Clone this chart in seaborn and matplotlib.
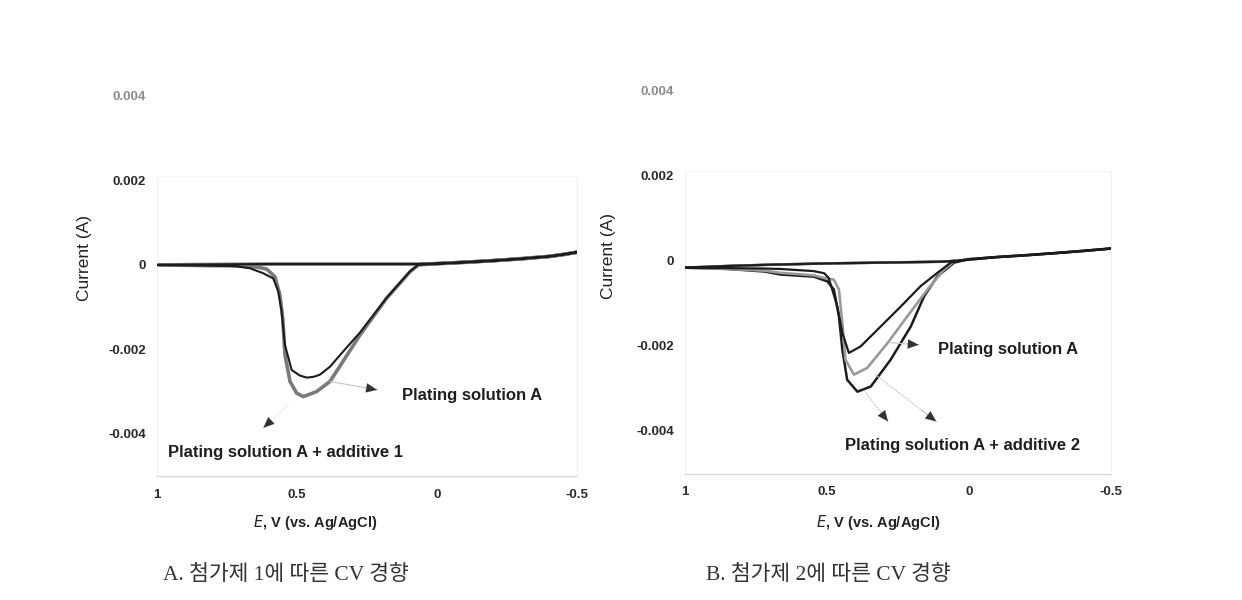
import matplotlib
matplotlib.use("Agg")
import matplotlib.pyplot as plt
import seaborn as sns
import pandas as pd

# ---------------- data ----------------
# Panel A : additive 1
a_plain_E = [1.0, 0.9, 0.8, 0.72, 0.668, 0.62, 0.585, 0.567, 0.555, 0.543, 0.519, 0.49, 0.465,
             0.44, 0.418, 0.382, 0.335, 0.275, 0.18, 0.096, 0.067, 0.0, -0.1, -0.2, -0.3, -0.4,
             -0.45, -0.5, -0.4, -0.2, 0.0, 0.067, 0.2, 0.4, 0.6, 0.8, 1.0]
a_plain_I = [0.0, -0.00001, -0.00002, -0.00003, -0.00008, -0.0002, -0.00032, -0.00063, -0.0011,
             -0.0019, -0.00249, -0.00262, -0.00267, -0.00265, -0.0026, -0.00241, -0.00205,
             -0.0016, -0.00078, -0.00015, 0.0, 0.00003, 0.00006, 0.0001, 0.00014, 0.0002,
             0.00024, 0.0003, 0.0002, 0.0001, 0.00003, 0.00002, 0.00002, 0.00002, 0.00002,
             0.00001, 0.0]
a_add1_E = [1.0, 0.9, 0.8, 0.739, 0.644, 0.608, 0.579, 0.561, 0.551, 0.543, 0.525, 0.501, 0.477,
            0.43, 0.382, 0.275, 0.18, 0.096, 0.067, 0.0, -0.1, -0.2, -0.3, -0.4, -0.45, -0.5,
            -0.4, -0.2, 0.0, 0.067, 0.2, 0.4, 0.6, 0.8, 1.0]
a_add1_I = [0.0, -0.00001, -0.00002, -0.00002, -0.00005, -0.0001, -0.00028, -0.00071, -0.00126,
            -0.00213, -0.00276, -0.00304, -0.00312, -0.003, -0.00276, -0.00166, -0.00079,
            -0.00016, 0.0, 0.00003, 0.00006, 0.0001, 0.00014, 0.0002, 0.00024, 0.0003,
            0.0002, 0.0001, 0.00003, 0.00002, 0.00002, 0.00002, 0.00002, 0.00001, 0.0]

# Panel B : additive 2
b_return_E = [-0.5, -0.3, -0.1, 0.0, 0.05, 0.1, 0.3, 0.5, 0.7, 0.85, 1.0]
b_return_I = [0.00028, 0.00017, 0.00008, 0.00002, -0.00001, -0.00003, -0.00005, -0.00007,
              -0.0001, -0.00013, -0.00017]
b_pos_E = [0.0, -0.1, -0.2, -0.3, -0.4, -0.5]
b_pos_I = [0.00003, 0.00008, 0.00012, 0.00017, 0.00022, 0.00028]

b_plain_E = [1.0, 0.85, 0.72, 0.664, 0.547, 0.51, 0.494, 0.464, 0.446, 0.423, 0.382, 0.311,
             0.24, 0.17, 0.111, 0.064]
b_plain_I = [-0.00017, -0.00018, -0.00019, -0.0002, -0.00025, -0.0003, -0.00041, -0.00107,
             -0.0017, -0.00217, -0.00202, -0.00155, -0.00108, -0.0006, -0.00029, -0.00005]
b_add2a_E = [1.0, 0.85, 0.72, 0.664, 0.547, 0.511, 0.476, 0.458, 0.446, 0.435, 0.405, 0.358,
             0.287, 0.217, 0.146, 0.087, 0.052]
b_add2a_I = [-0.00017, -0.0002, -0.00024, -0.00029, -0.00035, -0.00041, -0.00045, -0.00068,
             -0.00147, -0.00233, -0.00268, -0.00252, -0.00194, -0.00131, -0.00068, -0.00021,
             -0.00002]
b_add2b_E = [1.0, 0.85, 0.72, 0.664, 0.547, 0.499, 0.476, 0.458, 0.446, 0.429, 0.393, 0.346,
             0.276, 0.205, 0.158, 0.111, 0.052]
b_add2b_I = [-0.00017, -0.0002, -0.00026, -0.00033, -0.00038, -0.00049, -0.00068, -0.00131,
             -0.00209, -0.0028, -0.00308, -0.00296, -0.00233, -0.00155, -0.00084, -0.00037,
             -0.00005]

y_ticks = [0.004, 0.002, 0, -0.002, -0.004]
y_tick_labels = ["0.004", "0.002", "0", "-0.002", "-0.004"]
x_ticks = [1, 0.5, 0, -0.5]
x_tick_labels = ["1", "0.5", "0", "-0.5"]
caption_a = "A. 첨가제 1에 따른 CV 경향"
caption_b = "B. 첨가제 2에 따른 CV 경향"
label_plain = "Plating solution A"
label_add1 = "Plating solution A + additive 1"
label_add2 = "Plating solution A + additive 2"


def frame(E, I, name):
    return pd.DataFrame({"E": E, "I": I, "series": name, "step": range(len(E))})


df_a_plain = frame(a_plain_E, a_plain_I, "plain")
df_a_add1 = frame(a_add1_E, a_add1_I, "add1")
df_b_plain = frame(b_plain_E + b_pos_E + b_return_E, b_plain_I + b_pos_I + b_return_I, "plain")
df_b_add2a = frame(b_add2a_E + b_pos_E + b_return_E, b_add2a_I + b_pos_I + b_return_I, "add2a")
df_b_add2b = frame(b_add2b_E + b_pos_E + b_return_E, b_add2b_I + b_pos_I + b_return_I, "add2b")

# ---------------- figure ----------------
sns.set_theme(style="white")
plt.rcParams["font.family"] = ["Liberation Sans", "DejaVu Sans"]

fig = plt.figure(figsize=(12.42, 6.0), dpi=100)
axA = fig.add_axes([157 / 1242, 1 - 476 / 600, 420 / 1242, 380 / 600])
axB = fig.add_axes([685 / 1242, 1 - 473.5 / 600, 426 / 1242, 383.5 / 600])

BLACK = "#1c1c1c"


def draw(ax, df, color, lw, z):
    sns.lineplot(data=df, x="E", y="I", sort=False, estimator=None, color=color,
                 linewidth=lw, ax=ax, zorder=z, legend=False)


draw(axA, df_a_add1, "#7a7a7a", 2.6, 2)
draw(axA, df_a_plain, BLACK, 1.5, 3)

draw(axB, df_b_add2b, BLACK, 1.8, 2)
draw(axB, df_b_add2a, "#9a9a9a", 1.9, 3)
draw(axB, df_b_plain, BLACK, 1.6, 4)

for ax in (axA, axB):
    ax.set_xlim(1, -0.5)
    ax.set_ylim(-0.005, 0.004)
    ax.set_yticks(y_ticks)
    ax.set_yticklabels(y_tick_labels)
    ax.set_xticks(x_ticks)
    ax.set_xticklabels(x_tick_labels)
    ax.tick_params(axis="both", length=0, labelsize=9.5, colors="#2a2a2a")
    ax.tick_params(axis="y", pad=8)
    ax.tick_params(axis="x", pad=9)
    for lab in ax.get_xticklabels() + ax.get_yticklabels():
        lab.set_fontweight("bold")
    ax.get_yticklabels()[0].set_color("#8c8c8c")
    ax.set_facecolor("none")
    ax.spines["top"].set_visible(False)
    for s in ("left", "right"):
        ax.spines[s].set_color("#f1f1f1")
        ax.spines[s].set_linewidth(0.8)
        ax.spines[s].set_bounds(-0.005, 0.0021)
    ax.spines["bottom"].set_color("#dadada")
    ax.spines["bottom"].set_linewidth(1.0)
    ax.axhline(0.0021, color="#f4f4f4", lw=0.8, zorder=0)
    ax.set_xlabel("")
    ax.set_ylabel("")

# axis titles
yl = dict(rotation=90, ha="center", va="center", fontsize=12.5, color="#222222")
fig.text(85 / 1242, 1 - 258 / 600, "Current (A)", **yl)
fig.text(609 / 1242, 1 - 256 / 600, "Current (A)", **yl)
xl = dict(ha="center", va="center", fontsize=10.5, color="#222222", fontweight="bold")
fig.text(315 / 1242, 1 - 523 / 600, r"$\it{E}$, V (vs. Ag/AgCl)", **xl)
fig.text(878 / 1242, 1 - 523 / 600, r"$\it{E}$, V (vs. Ag/AgCl)", **xl)


def pointer(ax, start, head, dotted=False, line_color="#c4c4c4"):
    ax.annotate("", xy=head, xytext=start,
                arrowprops=dict(arrowstyle="-", color=line_color, lw=0.8,
                                linestyle=":" if dotted else "-", shrinkA=0, shrinkB=0))
    dx = head[0] - start[0]
    dy = head[1] - start[1]
    ax.annotate("", xy=head, xytext=(head[0] - dx * 0.25, head[1] - dy * 0.25),
                arrowprops=dict(arrowstyle="-|>,head_length=0.7,head_width=0.3",
                                color="#333333", lw=0.1, shrinkA=0, shrinkB=0,
                                mutation_scale=11))


ann = dict(fontsize=12, fontweight="bold", color="#1e1e1e", va="center", ha="left")
# Panel A annotations
pointer(axA, (0.382, -0.00276), (0.214, -0.00296))
axA.text(0.125, -0.0031, label_plain, **ann)
pointer(axA, (0.53, -0.0033), (0.62, -0.00386), line_color="#ececec")
axA.text(0.96, -0.00445, label_add1, **ann)

# Panel B annotations
pointer(axB, (0.276, -0.00193), (0.177, -0.00198))
axB.text(0.11, -0.0021, label_plain, **ann)
pointer(axB, (0.37, -0.00305), (0.285, -0.00378), dotted=True)
pointer(axB, (0.33, -0.00268), (0.115, -0.00378), dotted=True)
axB.text(0.435, -0.00435, label_add2, **ann)

# captions
cap = dict(fontsize=15.5, color="#333333", va="center", ha="left",
           family=["Liberation Serif", "Noto Sans CJK KR"], fontweight="light")
fig.text(163 / 1242, 1 - 575 / 600, caption_a, **cap)
fig.text(706 / 1242, 1 - 575 / 600, caption_b, **cap)

fig.savefig("out.png", dpi=100, facecolor="white")
